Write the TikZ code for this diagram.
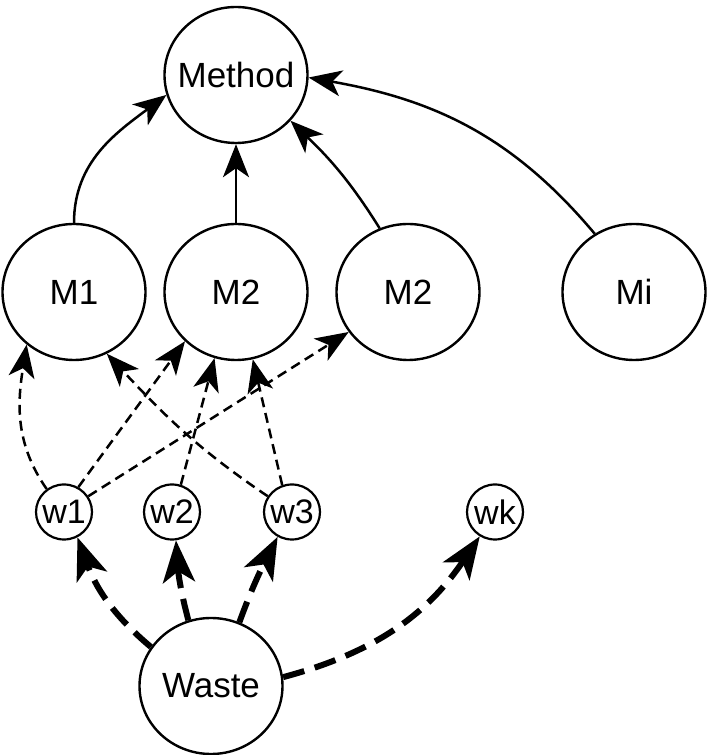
\documentclass[tikz,border=0pt]{standalone}
\usepackage{fontspec}
\setmainfont{Liberation Sans}
\usetikzlibrary{shapes.geometric,arrows.meta}
\begin{document}
\begin{tikzpicture}[x=1pt,y=1pt,
  bignode/.style={ellipse,draw,line width=2.4pt,minimum width=143pt,minimum height=136pt,inner sep=0pt,
    label={[font=\fontsize{35}{40}\selectfont]center:#1}},
  smallnode/.style={ellipse,draw,line width=2.2pt,minimum width=56pt,minimum height=55pt,inner sep=0pt,
    label={[font=\fontsize{34}{38}\selectfont]center:#1}},
  solidarrow/.style={line width=2.5pt,-{Stealth[length=33pt,width=26pt,inset=9pt]}},
  thindash/.style={solidarrow,dash pattern=on 10pt off 6pt},
  thickdash/.style={line width=6pt,dash pattern=on 22pt off 11pt,-{Stealth[length=42pt,width=32pt,inset=11pt]}}
]
\useasboundingbox (0,0) rectangle (709,755);
\node[bignode=Method] (Method) at (236,680) {};
\node[bignode=M1] (M1) at (74,463) {};
\node[bignode=M2] (M2) at (236,463) {};
\node[bignode=M2] (M2b) at (408,463) {};
\node[bignode=Mi] (Mi) at (634,463) {};
\node[smallnode=w1] (w1) at (64,243) {};
\node[smallnode=w2] (w2) at (172,243) {};
\node[smallnode=w3] (w3) at (292,243) {};
\node[smallnode=wk] (wk) at (495,243) {};
\node[bignode=Waste] (Waste) at (211,69) {};

\draw[solidarrow] (M1.north) to[out=90,in=217] (Method.196);
\draw[solidarrow] (M2) -- (Method);
\draw[solidarrow] (M2b.114) to[out=122,in=316] (Method.320);
\draw[solidarrow] (Mi.124) to[out=130,in=350] (Method.358);

\draw[thindash] (w1.127) to[out=125,in=261] (M1.228);
\draw[thindash] (w1.60) -- (M2.224);
\draw[thindash] (w1.33) -- (M2b.214);
\draw[thindash] (w3.147) to[out=146,in=313] (M1.298);
\draw[thindash] (w2.72) -- (M2.252);
\draw[thindash] (w3.110) -- (M2.284);

\draw[thickdash] (Waste.147) to[out=140,in=290] (w1.298);
\draw[thickdash] (Waste.109) to[out=105,in=274] (w2.278);
\draw[thickdash] (Waste.66) to[out=70,in=243] (w3.240);
\draw[thickdash] (Waste.7) to[out=15,in=236] (wk.238);
\end{tikzpicture}
\end{document}
